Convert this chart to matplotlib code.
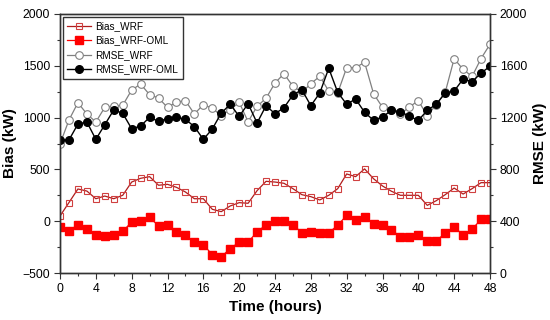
import matplotlib
matplotlib.use("Agg")
import matplotlib.pyplot as plt
from matplotlib.ticker import MultipleLocator

plt.rcParams['font.family'] = ['Liberation Sans', 'DejaVu Sans']

hours = list(range(0, 49))

bias_wrf = [50, 180, 311, 291, 217, 243, 217, 250, 378, 414, 430, 347, 356, 327, 282, 217, 217,
            115, 92, 147, 179, 173, 295, 385, 378, 366, 314, 256, 237, 205, 250, 314, 456, 430,
            505, 410, 340, 289, 250, 250, 250, 153, 198, 256, 320, 262, 314, 372, 372]

bias_oml = [-59, -92, -34, -78, -136, -143, -130, -98, -8, 5, 38, -46, -34, -104, -136, -201, -227,
            -323, -343, -265, -201, -201, -104, -34, 5, 5, -34, -111, -104, -117, -111, -40, 57, 12,
            44, -27, -34, -85, -149, -156, -136, -188, -188, -117, -53, -136, -78, 18, 25]

rmse_wrf = [996, 1181, 1315, 1228, 1166, 1279, 1290, 1295, 1413, 1459, 1377, 1351, 1279, 1320, 1331,
            1228, 1300, 1272, 1215, 1261, 1318, 1168, 1287, 1349, 1467, 1539, 1442, 1395, 1462, 1519,
            1405, 1390, 1586, 1586, 1627, 1385, 1279, 1259, 1226, 1283, 1330, 1215, 1300, 1395, 1655,
            1572, 1518, 1656, 1766]

rmse_oml = [1027, 1027, 1150, 1166, 1032, 1145, 1259, 1233, 1114, 1135, 1202, 1171, 1192, 1202, 1187,
            1130, 1032, 1112, 1235, 1303, 1210, 1307, 1158, 1292, 1230, 1276, 1375, 1415, 1292, 1390,
            1581, 1395, 1303, 1344, 1241, 1179, 1205, 1256, 1246, 1210, 1179, 1256, 1303, 1390, 1405,
            1498, 1477, 1544, 1596]

fig = plt.figure(figsize=(5.5, 3.2), dpi=100)
ax = fig.add_axes([60/550, 1-273/320, 430/550, 259/320])
ax2 = ax.twinx()

h1, = ax.plot(hours, bias_wrf, color='#B01C1C', lw=0.9, marker='s', ms=5, mfc='none',
              mec='#D04040', mew=0.8, label='Bias_WRF')
h2, = ax.plot(hours, bias_oml, color='#FF0000', lw=0.9, marker='s', ms=5.5, mfc='#FF0000',
              mec='#FF0000', label='Bias_WRF-OML')
h3, = ax2.plot(hours, rmse_wrf, color='#808080', lw=0.9, marker='o', ms=5.5, mfc='white',
               mec='#808080', mew=0.8, label='RMSE_WRF')
h4, = ax2.plot(hours, rmse_oml, color='black', lw=1.0, marker='o', ms=5.5, mfc='black',
               mec='black', label='RMSE_WRF-OML')

ax.set_xlim(0, 48)
ax.set_ylim(-500, 2000)
ax2.set_ylim(0, 2000)
ax.xaxis.set_major_locator(MultipleLocator(4))
ax.xaxis.set_minor_locator(MultipleLocator(2))
ax.yaxis.set_major_locator(MultipleLocator(500))
ax.yaxis.set_minor_locator(MultipleLocator(250))
ax2.yaxis.set_major_locator(MultipleLocator(400))
ax2.yaxis.set_minor_locator(MultipleLocator(200))

for a in (ax, ax2):
    a.tick_params(axis='both', which='major', direction='out', length=4, width=0.8,
                  labelsize=8.8, color='#333333', pad=3)
    a.tick_params(axis='both', which='minor', direction='out', length=2.5, width=0.8,
                  color='#333333')
    for s in a.spines.values():
        s.set_color('#333333')
        s.set_linewidth(1.0)

ax.set_xlabel('Time (hours)', fontsize=11, fontweight='bold', labelpad=4)
ax.set_ylabel('Bias (kW)', fontsize=11, fontweight='bold', labelpad=4)
ax2.set_ylabel('RMSE (kW)', fontsize=11, fontweight='bold', labelpad=4)

leg = ax2.legend(handles=[h1, h2, h3, h4], loc='upper left', fontsize=7.2, frameon=True,
                 fancybox=False, edgecolor='#333333', borderpad=0.45, labelspacing=0.45,
                 handlelength=2.4, handletextpad=0.45, borderaxespad=0.25)
leg.get_frame().set_linewidth(1.0)
leg.get_frame().set_alpha(1.0)

fig.savefig('out.png', dpi=100)
